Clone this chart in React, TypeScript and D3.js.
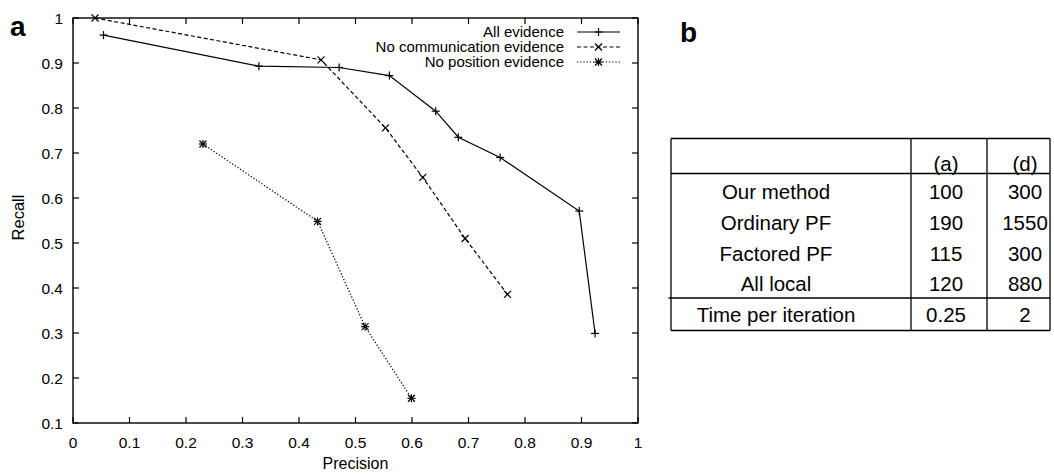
import React from "react";
import * as d3 from "d3";

// ---- data ----
const seriesNames = ["All evidence", "No communication evidence", "No position evidence"];
const allEvidencePrecision = [0.054, 0.329, 0.471, 0.56, 0.642, 0.682, 0.756, 0.896, 0.924];
const allEvidenceRecall = [0.962, 0.893, 0.89, 0.872, 0.793, 0.735, 0.69, 0.571, 0.299];
const noCommPrecision = [0.039, 0.439, 0.553, 0.619, 0.694, 0.769];
const noCommRecall = [1.0, 0.907, 0.756, 0.646, 0.51, 0.386];
const noPosPrecision = [0.23, 0.433, 0.517, 0.599];
const noPosRecall = [0.72, 0.548, 0.314, 0.155];

const xTicks = [0, 0.1, 0.2, 0.3, 0.4, 0.5, 0.6, 0.7, 0.8, 0.9, 1];
const yTicks = [0.1, 0.2, 0.3, 0.4, 0.5, 0.6, 0.7, 0.8, 0.9, 1];

const tableHeaders = ["", "(a)", "(d)"];
const tableRowLabels = ["Our method", "Ordinary PF", "Factored PF", "All local", "Time per iteration"];
const tableColA = ["100", "190", "115", "120", "0.25"];
const tableColD = ["300", "1550", "300", "880", "2"];

const FONT = "'Liberation Sans', Arial, Helvetica, sans-serif";

type Pt = [number, number];

function Marker({ kind, x, y }: { kind: string; x: number; y: number }) {
  const s = 3.5;
  const plus = (
    <g>
      <line x1={x - s - 0.5} x2={x + s + 0.5} y1={y} y2={y} />
      <line x1={x} x2={x} y1={y - s - 0.5} y2={y + s + 0.5} />
    </g>
  );
  const cross = (
    <g>
      <line x1={x - s} x2={x + s} y1={y - s} y2={y + s} />
      <line x1={x - s} x2={x + s} y1={y + s} y2={y - s} />
    </g>
  );
  return (
    <g stroke="#000" strokeWidth={1.2} strokeDasharray="none">
      {kind === "plus" && plus}
      {kind === "cross" && cross}
      {kind === "star" && (
        <g>
          {plus}
          {cross}
        </g>
      )}
    </g>
  );
}

export default function App() {
  const left = 73,
    right = 638,
    top = 18,
    bottom = 423;
  const x = d3.scaleLinear().domain([0, 1]).range([left, right]);
  const y = d3.scaleLinear().domain([0.1, 1]).range([bottom, top]);
  const line = d3
    .line<Pt>()
    .x((d) => x(d[0]))
    .y((d) => y(d[1]));

  const series = [
    {
      name: seriesNames[0],
      pts: allEvidencePrecision.map((p, i) => [p, allEvidenceRecall[i]] as Pt),
      dash: "none",
      marker: "plus",
    },
    {
      name: seriesNames[1],
      pts: noCommPrecision.map((p, i) => [p, noCommRecall[i]] as Pt),
      dash: "4,2.5",
      marker: "cross",
    },
    {
      name: seriesNames[2],
      pts: noPosPrecision.map((p, i) => [p, noPosRecall[i]] as Pt),
      dash: "1.3,1.9",
      marker: "star",
    },
  ];

  const tick = 6;
  const legendTextX = 564;
  const legendLine: [number, number] = [577, 620];
  const legendY = [32, 47, 62];

  // table geometry
  const tLeft = 671,
    tRight = 1050,
    tTop = 138.5,
    tHeadBottom = 173.5,
    tSep = 298,
    tBottom = 330.5;
  const colSep = [911, 987];
  const rowCenters = [191.7, 222.7, 253.3, 284, 315];
  const headerCenter = 163.3;
  const colCenters = [776, 946, 1025];
  const tableFont = 20.5;

  return (
    <svg
      width={1054}
      height={475}
      style={{ position: "absolute", left: 0, top: 0, background: "#fff" }}
      fontFamily={FONT}
    >
      <rect x={0} y={0} width={1054} height={475} fill="#fff" />
      {/* panel labels */}
      <text x={10} y={36} fontSize={28} fontWeight="bold">
        a
      </text>
      <text x={680} y={42} fontSize={28} fontWeight="bold">
        b
      </text>

      {/* ticks */}
      <g stroke="#000" strokeWidth={1.2}>
        {xTicks.map((t) => (
          <g key={"xt" + t}>
            <line x1={x(t)} x2={x(t)} y1={bottom} y2={bottom - tick} />
            <line x1={x(t)} x2={x(t)} y1={top} y2={top + tick} />
          </g>
        ))}
        {yTicks.map((t) => (
          <g key={"yt" + t}>
            <line x1={left} x2={left + tick} y1={y(t)} y2={y(t)} />
            <line x1={right} x2={right - tick} y1={y(t)} y2={y(t)} />
          </g>
        ))}
      </g>
      {/* frame */}
      <rect
        x={left}
        y={top}
        width={right - left}
        height={bottom - top}
        fill="none"
        stroke="#000"
        strokeWidth={1.4}
      />
      {/* tick labels */}
      <g fontSize={15.5} fill="#000">
        {xTicks.map((t) => (
          <text key={"xl" + t} x={x(t)} y={447.5} textAnchor="middle">
            {d3.format("~g")(t)}
          </text>
        ))}
        {yTicks.map((t) => (
          <text key={"yl" + t} x={63} y={y(t) + 5.5} textAnchor="end">
            {d3.format("~g")(t)}
          </text>
        ))}
      </g>
      {/* axis titles */}
      <text x={(left + right) / 2} y={469} fontSize={16} textAnchor="middle">
        Precision
      </text>
      <text
        transform={`translate(24, 217.5) rotate(-90)`}
        fontSize={16.5}
        textAnchor="middle"
      >
        Recall
      </text>

      {/* series */}
      {series.map((s) => (
        <g key={s.name}>
          <path
            d={line(s.pts) || ""}
            fill="none"
            stroke="#000"
            strokeWidth={1.2}
            strokeDasharray={s.dash}
          />
          {s.pts.map((p, i) => (
            <Marker key={i} kind={s.marker} x={x(p[0])} y={y(p[1])} />
          ))}
        </g>
      ))}

      {/* legend */}
      {series.map((s, i) => (
        <g key={"lg" + s.name}>
          <text x={legendTextX} y={legendY[i] + 5.2} fontSize={15} textAnchor="end">
            {s.name}
          </text>
          <line
            x1={legendLine[0]}
            x2={legendLine[1]}
            y1={legendY[i]}
            y2={legendY[i]}
            stroke="#000"
            strokeWidth={1.2}
            strokeDasharray={s.dash}
          />
          <Marker kind={s.marker} x={(legendLine[0] + legendLine[1]) / 2} y={legendY[i]} />
        </g>
      ))}

      {/* table */}
      <g stroke="#000" strokeWidth={1.3}>
        <line x1={tLeft} x2={tRight} y1={tTop} y2={tTop} />
        <line x1={tLeft} x2={tRight} y1={tHeadBottom} y2={tHeadBottom} />
        <line x1={tLeft - 2.5} x2={tRight} y1={tSep} y2={tSep} />
        <line x1={tLeft} x2={tRight} y1={tBottom} y2={tBottom} />
        <line x1={tLeft} x2={tLeft} y1={tTop} y2={tBottom} />
        <line x1={tRight} x2={tRight} y1={tTop} y2={tBottom} />
        {colSep.map((c) => (
          <line key={"cs" + c} x1={c} x2={c} y1={tTop} y2={tBottom} />
        ))}
      </g>
      <g fontSize={tableFont} textAnchor="middle" fill="#000">
        {tableHeaders.map((h, i) => (
          <text key={"h" + i} x={colCenters[i]} y={headerCenter + 7.2}>
            {h}
          </text>
        ))}
        {tableRowLabels.map((r, i) => (
          <g key={"r" + i}>
            <text x={colCenters[0]} y={rowCenters[i] + 7.3}>
              {r}
            </text>
            <text x={colCenters[1]} y={rowCenters[i] + 7.3}>
              {tableColA[i]}
            </text>
            <text x={colCenters[2]} y={rowCenters[i] + 7.3}>
              {tableColD[i]}
            </text>
          </g>
        ))}
      </g>
    </svg>
  );
}
